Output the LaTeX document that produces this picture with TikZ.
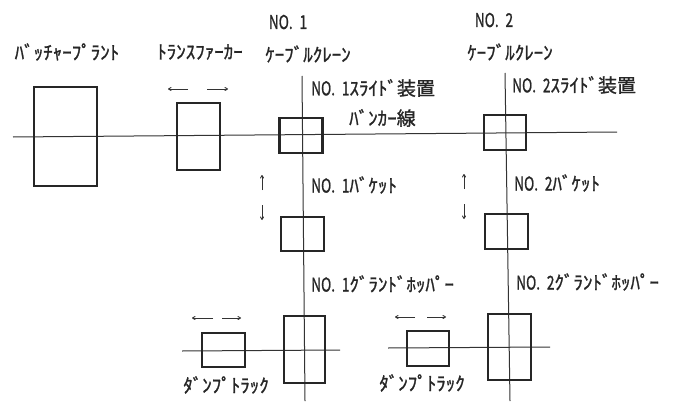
\documentclass[tikz,border=0pt]{standalone}
\usepackage{fontspec}
\usepackage{graphicx}
\newfontfamily\jpfont{Noto Sans CJK JP}[FakeBold=1.2]
\newcommand\nolbl[1]{\scalebox{0.72}[1]{NO.\enspace#1}}
\usetikzlibrary{arrows.meta}

\begin{document}
\begin{tikzpicture}[x=1pt,y=-1pt,box/.style={draw=black!85,line width=2.6pt,minimum width=#1},box/.default=43pt,lbl/.style={font=\jpfont\fontsize{19}{19}\selectfont,text=black!85,inner sep=0pt},axis/.style={draw=black!80,line width=1pt},move/.style={-{To[length=3.5pt,width=4pt]},line width=0.9pt,draw=black!80}]
\fill[white] (0,0) rectangle (679,401);
\useasboundingbox (0,0) rectangle (679,401);
\node[lbl] (t1no) at (288,22) {\nolbl{1}};
\node[lbl] (t1cc) at (308,54) {ｹｰﾌﾞﾙｸﾚｰﾝ};
\node[lbl] (t2no) at (494,20) {\nolbl{2}};
\node[lbl] (t2cc) at (510,52) {ｹｰﾌﾞﾙｸﾚｰﾝ};
\node[lbl] (tplant) at (67,52) {ﾊﾞｯﾁｬｰﾌﾟﾗﾝﾄ};
\node[lbl] (tcarl) at (200,52) {ﾄﾗﾝｽﾌｧｰｶｰ};
\node[lbl,anchor=west] (ts1) at (311,88) {\nolbl{1}ｽﾗｲﾄﾞ装置};
\node[lbl,anchor=west] (ts2) at (512,85) {\nolbl{2}ｽﾗｲﾄﾞ装置};
\node[lbl,anchor=west] (tbl) at (349,118) {ﾊﾞﾝｶｰ線};
\node[lbl,anchor=west] (tb1) at (311,185) {\nolbl{1}ﾊﾞｹｯﾄ};
\node[lbl,anchor=west] (tb2) at (514,183) {\nolbl{2}ﾊﾞｹｯﾄ};
\node[lbl,anchor=west] (th1) at (311,284) {\nolbl{1}ｸﾞﾗﾝﾄﾞﾎｯﾊﾟｰ};
\node[lbl,anchor=west] (th2) at (516,282) {\nolbl{2}ｸﾞﾗﾝﾄﾞﾎｯﾊﾟｰ};
\node[lbl] (td1) at (226,385) {ﾀﾞﾝﾌﾟﾄﾗｯｸ};
\node[lbl] (td2) at (422,383) {ﾀﾞﾝﾌﾟﾄﾗｯｸ};
\coordinate (bl0) at (13,137);
\coordinate (bl1) at (617,132);
\coordinate (c1a) at (302,76);
\coordinate (c1b) at (305,401);
\coordinate (c2a) at (505,73);
\coordinate (c2b) at (510,401);
\coordinate (g1a) at (182,351);
\coordinate (g1b) at (340,350);
\coordinate (g2a) at (388,348);
\coordinate (g2b) at (550,347);
\draw[axis] (bl0) -- (bl1);
\draw[axis] (c1a) -- (c1b);
\draw[axis] (c2a) -- (c2b);
\draw[axis] (g1a) -- (g1b);
\draw[axis] (g2a) -- (g2b);
\node[box=63pt,minimum height=99pt] (plant) at (65.5,136.5) {};
\node[box,minimum height=67pt] (tcar) at (198.5,136.5) {};
\node[box,minimum height=35pt] (slide1) at (301,135.5) {};
\node[box=42pt,minimum height=35pt] (slide2) at (505,132.5) {};
\node[box,minimum height=34pt] (bucket1) at (302.5,234) {};
\node[box,minimum height=35pt] (bucket2) at (506.5,231.5) {};
\node[box=41pt,minimum height=67pt] (hopper1) at (304.5,349.5) {};
\node[box,minimum height=66pt] (hopper2) at (509.5,347) {};
\node[box,minimum height=34pt] (truck1) at (223.5,350) {};
\node[box=42pt,minimum height=35pt] (truck2) at (428,348.5) {};
\coordinate (a1) at (188,89); \coordinate (a2) at (168,89);
\coordinate (a3) at (207,89); \coordinate (a4) at (228,89);
\coordinate (a5) at (262,190); \coordinate (a6) at (262,175);
\coordinate (a7) at (262,205); \coordinate (a8) at (262,220);
\coordinate (a9) at (464,189); \coordinate (a10) at (464,174);
\coordinate (a11) at (464,204); \coordinate (a12) at (464,219);
\coordinate (a13) at (213,318); \coordinate (a14) at (192,318);
\coordinate (a15) at (222,318); \coordinate (a16) at (241,318);
\coordinate (a17) at (415,317); \coordinate (a18) at (395,317);
\coordinate (a19) at (427,317); \coordinate (a20) at (446,317);
\foreach \s/\e in {a1/a2,a3/a4,a5/a6,a7/a8,a9/a10,a11/a12,a13/a14,a15/a16,a17/a18,a19/a20}
  \draw[move] (\s) -- (\e);
\end{tikzpicture}
\end{document}
